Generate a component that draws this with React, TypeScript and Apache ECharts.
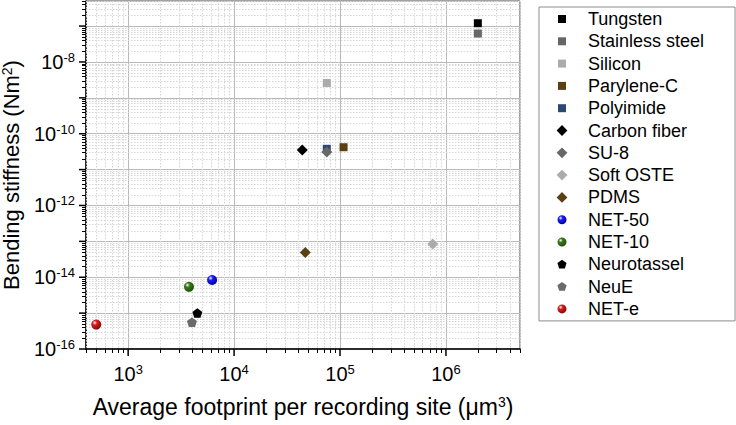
import React, { useEffect, useRef } from "react";
import * as echarts from "echarts";

const FONT = "'Liberation Sans', Arial, Helvetica, sans-serif";

// Materials (legend order)
const names = [
  "Tungsten", "Stainless steel", "Silicon", "Parylene-C", "Polyimide",
  "Carbon fiber", "SU-8", "Soft OSTE", "PDMS", "NET-50", "NET-10",
  "Neurotassel", "NeuE", "NET-e",
];
// Average footprint per recording site (µm^3)
const footprint = [2.0e6, 2.0e6, 7.5e4, 1.08e5, 7.5e4, 4.4e4, 7.5e4, 7.5e5, 4.7e4, 6.2e3, 3.75e3, 4.5e3, 4.0e3, 500];
// Bending stiffness (Nm^2)
const stiffness = [1.2e-7, 6.2e-8, 2.6e-9, 4.2e-11, 3.8e-11, 3.5e-11, 3.1e-11, 8.4e-14, 4.9e-14, 8.4e-15, 5.4e-15, 1.0e-15, 5.6e-16, 4.8e-16];
const shapes = ["square", "square", "square", "square", "square", "diamond", "diamond", "diamond", "diamond", "sphere", "sphere", "pentagon", "pentagon", "sphere"];
const colors = ["#000000", "#666666", "#ababab", "#5a4012", "#2d4872", "#000000", "#686868", "#ababab", "#5a4012", "#1a1aff", "#3a7a1c", "#000000", "#6a6a6a", "#d81e1e"];
const darkColors = ["", "", "", "", "", "", "", "", "", "#00008a", "#1c4a08", "", "", "#7a0606"];

// axis ranges (data units)
const xMin = 400, xMax = 5e6;
const yMin = 1e-16, yMax = 5e-7;

const lg = (v: number) => Math.log10(v);

const PENT = "path://M5,0L10,3.63L8.09,9.51L1.91,9.51L0,3.63Z";
const legendIcons: Record<string, string> = {
  square: "path://M0,0M12,12M2,2H10V10H2Z",
  diamond: "path://M0,0M12,12M6,0.6L11.4,6L6,11.4L0.6,6Z",
  sphere: "path://M0,0M12,12M1.5,6A4.5,4.5,0,1,1,10.5,6A4.5,4.5,0,1,1,1.5,6Z",
  pentagon: "path://M0,0M12,12M6,1.4L10.6,4.75L8.85,10.2L3.15,10.2L1.4,4.75Z",
};

// label for an exponent tick (value axis in log10 units)
function supLabel(e: number, onlyEven: boolean) {
  const r = Math.round(e);
  if (Math.abs(e - r) > 1e-6) return "";
  if (onlyEven && r % 2 !== 0) return "";
  return "{b|10}{s|" + String(r) + "}";
}

function minorValues(lo: number, hi: number) {
  const out: number[] = [];
  for (let n = Math.floor(lg(lo)); n <= Math.ceil(lg(hi)); n++) {
    for (let k = 2; k <= 9; k++) {
      const v = k * Math.pow(10, n);
      if (v >= lo * 0.999 && v <= hi * 1.001) out.push(v);
    }
  }
  return out;
}
function majorValues(lo: number, hi: number) {
  const out: number[] = [];
  for (let n = Math.ceil(lg(lo) - 1e-9); n <= Math.floor(lg(hi) + 1e-9); n++) out.push(Math.pow(10, n));
  return out;
}

export default function App() {
  const ref = useRef<HTMLDivElement>(null);
  useEffect(() => {
    if (!ref.current) return;
    const chart = echarts.init(ref.current, null, { renderer: "svg" });

    const xMinor = minorValues(xMin, xMax);
    const yMinor = minorValues(yMin, yMax);
    const xMajor = majorValues(xMin, xMax);
    const yMajor = majorValues(yMin, yMax);

    const labelRich = {
      b: { fontSize: 20, fontFamily: FONT, color: "#000", lineHeight: 22 },
      s: { fontSize: 13, fontFamily: FONT, color: "#000", verticalAlign: "top", lineHeight: 22 },
    };

    const scatterSeries = names.map((name, i) => {
      const shape = shapes[i];
      let color: any = colors[i];
      let symbol = "rect";
      let size = 8;
      if (shape === "diamond") { symbol = "diamond"; size = 11; }
      if (shape === "pentagon") { symbol = PENT; size = 10; }
      if (shape === "sphere") {
        symbol = "circle"; size = 10;
        color = {
          type: "radial", x: 0.35, y: 0.32, r: 0.75,
          colorStops: [
            { offset: 0, color: "#ffffff" },
            { offset: 0.3, color: colors[i] },
            { offset: 1, color: darkColors[i] },
          ],
        };
      }
      return {
        name,
        type: "scatter",
        symbol,
        symbolSize: size,
        symbolKeepAspect: true,
        itemStyle: { color, opacity: 1 },
        data: [[lg(footprint[i]), lg(stiffness[i])]],
        z: 3,
      };
    });

    const gridSeries = {
      type: "custom",
      silent: true,
      z: 1,
      data: [[3, -12]],
      renderItem: (params: any, api: any) => {
        const cs = params.coordSys;
        const left = cs.x, right = cs.x + cs.width, top = cs.y, bottom = cs.y + cs.height;
        const children: any[] = [];
        const minorStyle = { stroke: "#d6d6d6", lineWidth: 1, lineDash: [1.5, 1.5] };
        const tickStyle = { stroke: "#000", lineWidth: 1 };
        xMinor.forEach((v) => {
          const px = Math.round(api.coord([lg(v), lg(yMin)])[0]) + 0.5;
          children.push({ type: "line", shape: { x1: px, y1: top, x2: px, y2: bottom }, style: minorStyle });
          children.push({ type: "line", shape: { x1: px, y1: bottom, x2: px, y2: bottom + 4 }, style: tickStyle });
        });
        yMinor.forEach((v) => {
          const py = Math.round(api.coord([lg(xMin), lg(v)])[1]) + 0.5;
          children.push({ type: "line", shape: { x1: left, y1: py, x2: right, y2: py }, style: minorStyle });
          children.push({ type: "line", shape: { x1: left - 4, y1: py, x2: left, y2: py }, style: tickStyle });
        });
        xMajor.forEach((v) => {
          const px = api.coord([lg(v), lg(yMin)])[0];
          children.push({ type: "line", shape: { x1: px, y1: bottom, x2: px, y2: bottom + 7 }, style: { stroke: "#000", lineWidth: 1.5 } });
        });
        yMajor.forEach((v) => {
          const py = api.coord([lg(xMin), lg(v)])[1];
          children.push({ type: "line", shape: { x1: left - 7, y1: py, x2: left, y2: py }, style: { stroke: "#000", lineWidth: 1.5 } });
        });
        return { type: "group", children };
      },
    };

    const nameRich = { s: { fontSize: 14, fontFamily: FONT, verticalAlign: "top", lineHeight: 23, color: "#000" } };

    chart.setOption({
      animation: false,
      backgroundColor: "#ffffff",
      textStyle: { fontFamily: FONT },
      grid: {
        left: 86, right: 216, top: 1, bottom: 76,
        outerBoundsMode: "none", containLabel: false,
        show: true, borderColor: "#444", borderWidth: 1, backgroundColor: "transparent",
      },
      xAxis: {
        type: "value",
        min: lg(xMin),
        max: lg(xMax),
        splitNumber: 5,
        name: "Average footprint per recording site (\u03bcm{s|3})",
        nameLocation: "middle",
        nameGap: 46,
        nameTextStyle: { fontSize: 23, fontFamily: FONT, color: "#000", rich: nameRich },
        axisLine: { show: true, lineStyle: { color: "#000", width: 1.5 } },
        axisTick: { show: false },
        minorTick: { show: false },
        axisLabel: { margin: 14, showMinLabel: true, showMaxLabel: true, formatter: (v: number) => supLabel(v, false), rich: labelRich },
        splitLine: { show: true, lineStyle: { color: "#b9b9b9", width: 1 } },
        z: 0,
      },
      yAxis: {
        type: "value",
        min: lg(yMin),
        max: lg(yMax),
        splitNumber: 10,
        name: "Bending stiffness (Nm{s|2})",
        nameLocation: "middle",
        nameGap: 56,
        nameTextStyle: { fontSize: 22, lineHeight: 23, fontFamily: FONT, color: "#000", rich: nameRich },
        axisLine: { show: true, lineStyle: { color: "#000", width: 1.5 } },
        axisTick: { show: false },
        minorTick: { show: false },
        axisLabel: { margin: 11, formatter: (v: number) => supLabel(v, true), rich: labelRich },
        splitLine: { show: true, lineStyle: { color: "#b9b9b9", width: 1 } },
        z: 0,
      },
      legend: {
        orient: "vertical",
        left: 539,
        top: 7,
        padding: [3, 31, 3, 17],
        itemWidth: 12,
        itemHeight: 12,
        itemGap: 4.3,
        borderColor: "#8c8c8c",
        borderWidth: 1,
        backgroundColor: "#fff",
        textStyle: { fontSize: 18, fontFamily: FONT, color: "#000", lineHeight: 18, padding: [0, 0, 0, 15] },
        data: names.map((n, i) => ({ name: n, icon: legendIcons[shapes[i]] })),
      },
      series: [gridSeries, ...scatterSeries],
    });
    return () => chart.dispose();
  }, []);
  return <div ref={ref} style={{ position: "fixed", left: 0, top: 0, width: 736, height: 425 }} />;
}
